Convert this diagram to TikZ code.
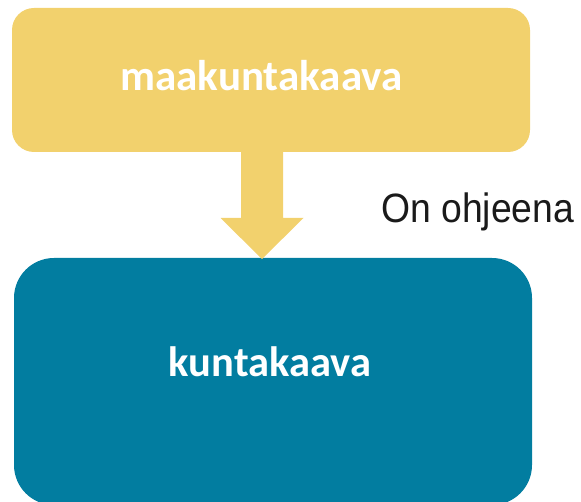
\documentclass[tikz,border=0pt]{standalone}
\usepackage{fontspec}
\setmainfont{Liberation Sans}
\newfontfamily\boxfont{Carlito}
\definecolor{ylw}{HTML}{F2D16D}
\definecolor{tealc}{HTML}{027DA0}
\definecolor{txt}{HTML}{1A1A1A}
\begin{document}
\begin{tikzpicture}[x=1pt,y=-1pt,
  boxbase/.style={inner sep=0pt, outer sep=0pt, draw=none, anchor=north west},
  boxlabel/.style={font=\boxfont\bfseries\fontsize{#1}{#1}\selectfont, text=white, anchor=base, inner sep=0pt}]
\useasboundingbox (0,0) rectangle (581,502);
\clip (0,0) rectangle (581,502);
\node[boxbase, fill=ylw, rounded corners=22pt, minimum width=518pt, minimum height=144pt] (maak) at (12,8) {};
\node[boxbase, fill=tealc, rounded corners=40pt, minimum width=518pt, minimum height=247pt] (kunta) at (14,258) {};
\coordinate (from) at (262,150);
\coordinate (tip) at (262,259);
\fill[ylw] (from) ++(-21,0) -- ++(0,68) -- ++(-20.5,0) -- (tip) -- ++(41.5,-41) -- ++(-20.5,0) -- ++(0,-68) -- cycle;
\node[boxlabel=43] (t1) at (261.5,91) {maakuntakaava};
\node[boxlabel=42.5] (t2) at (270,377) {kuntakaava};
\node[font=\fontsize{41}{41}\selectfont, text=txt, anchor=base west, inner sep=0pt, xscale=0.91, transform shape] (lab) at (381,223) {On ohjeena};
\end{tikzpicture}
\end{document}
